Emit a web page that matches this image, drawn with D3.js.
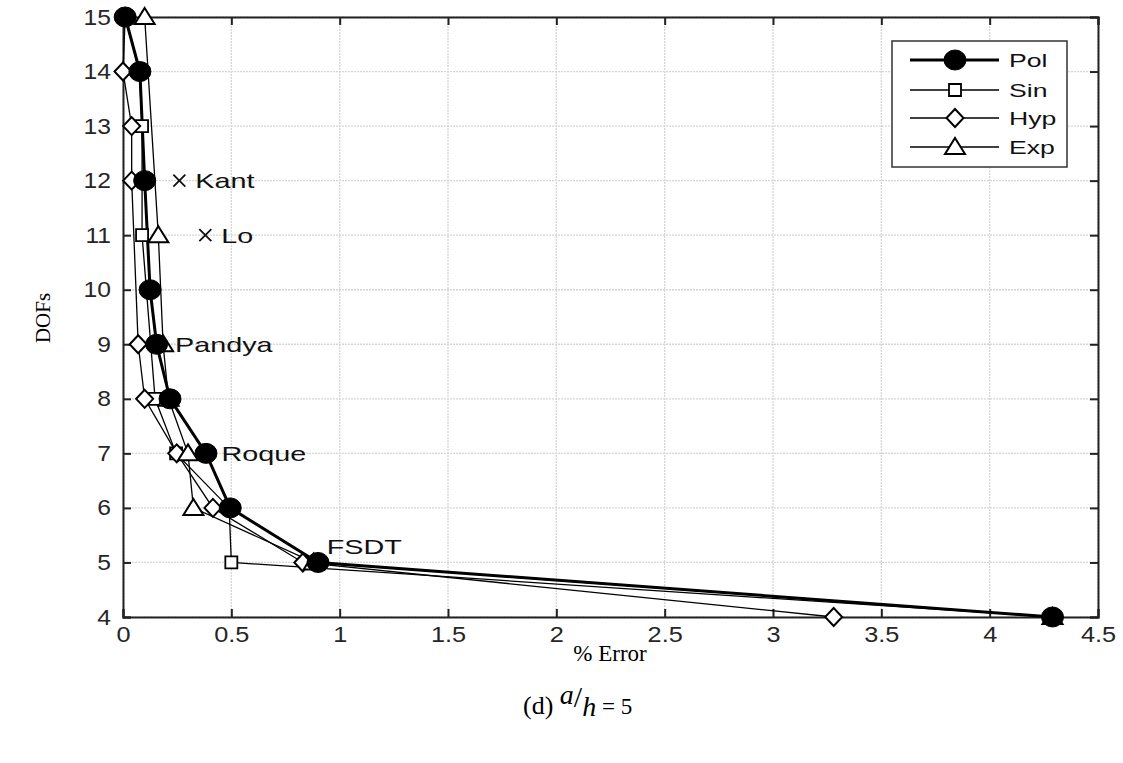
<!DOCTYPE html>
<html><head><meta charset="utf-8">
<script src="https://cdn.jsdelivr.net/npm/d3@7"></script>
<style>body{margin:0;background:#fff}</style>
</head><body>
<script>
// DOFs and % error values, per series
const polDofs = [15,14,12,10,9,8,7,6,5,4];
const polErr  = [0.01,0.078,0.10,0.125,0.155,0.217,0.383,0.495,0.90,4.29];
const sinDofs = [15,14,13,11,8,7,6,5,4];
const sinErr  = [0.01,0.075,0.088,0.088,0.148,0.245,0.49,0.50,4.29];
const hypDofs = [15,14,13,12,9,8,7,6,5,4];
const hypErr  = [0.01,0.0,0.04,0.04,0.07,0.10,0.248,0.415,0.83,3.28];
const expDofs = [15,11,9,8,7,6,5,4];
const expErr  = [0.10,0.163,0.185,0.21,0.30,0.325,0.88,4.29];
const xTicks = [0,0.5,1,1.5,2,2.5,3,3.5,4,4.5];
const yTicks = [4,5,6,7,8,9,10,11,12,13,14,15];
const annotNames = ["Kant","Lo","Pandya","Roque","FSDT"];
const annotX = [0.26,0.38,0.24,0.455,0.94];
const annotY = [12,11,9,7,5.3];
const annotMark = [true,true,false,false,false];
const legendNames = ["Pol","Sin","Hyp","Exp"];

const W=1123,H=763;
const svg=d3.select("body").append("svg").attr("width",W).attr("height",H);
const L=123,R=1098,T=17,B=617;
const x=d3.scaleLinear().domain([0,4.5]).range([L,R]);
const y=d3.scaleLinear().domain([4,15]).range([B,T]);
const SANS="Liberation Sans, Arial, sans-serif", SERIF="Liberation Serif, Times New Roman, serif";
function stretch(sel,f){sel.each(function(){const n=this;const w=n.getComputedTextLength();
  d3.select(n).attr("textLength",w*f).attr("lengthAdjust","spacingAndGlyphs");});}

// grid
const g=svg.append("g");
g.selectAll(".gx").data(xTicks).enter().append("line")
 .attr("x1",d=>x(d)).attr("x2",d=>x(d)).attr("y1",T).attr("y2",B)
 .attr("stroke","#d6d6d6").attr("stroke-width",1.3).attr("stroke-dasharray","2,1");
g.selectAll(".gy").data(yTicks).enter().append("line")
 .attr("x1",L).attr("x2",R).attr("y1",d=>y(d)).attr("y2",d=>y(d))
 .attr("stroke","#d6d6d6").attr("stroke-width",1.3).attr("stroke-dasharray","2,1");

// axes
const axB=d3.axisBottom(x).tickValues(xTicks).tickSize(-8).tickPadding(9).tickFormat(d=>String(d));
const axL=d3.axisLeft(y).tickValues(yTicks).tickSize(-8).tickPadding(12);
const axT=d3.axisTop(x).tickValues(xTicks).tickSize(-8).tickFormat("");
const axR=d3.axisRight(y).tickValues(yTicks).tickSize(-8).tickFormat("");
function style(sel){sel.selectAll("path,line").attr("stroke","#222").attr("stroke-width",2);
 sel.selectAll("text").attr("font-family",SANS).attr("font-size",22).attr("fill","#262626");}
const gB=svg.append("g").attr("transform",`translate(0,${B})`).call(axB).call(style);
const gL=svg.append("g").attr("transform",`translate(${L},0)`).call(axL).call(style);
svg.append("g").attr("transform",`translate(0,${T})`).call(axT).call(style);
svg.append("g").attr("transform",`translate(${R},0)`).call(axR).call(style);
svg.selectAll(".domain").attr("fill","none");
stretch(gB.selectAll("text"),1.15);
stretch(gL.selectAll("text"),1.12);

const line=d3.line().x(d=>x(d[0])).y(d=>y(d[1]));
const series=[
 {name:"Sin", pts:sinErr.map((e,i)=>[e,sinDofs[i]]), sym:"square", fill:"#fff", lw:1.3},
 {name:"Hyp", pts:hypErr.map((e,i)=>[e,hypDofs[i]]), sym:"diamond", fill:"#fff", lw:1.3},
 {name:"Exp", pts:expErr.map((e,i)=>[e,expDofs[i]]), sym:"triangle", fill:"#fff", lw:1.3},
 {name:"Pol", pts:polErr.map((e,i)=>[e,polDofs[i]]), sym:"circle", fill:"#000", lw:3}
];
function drawMarker(sel,s){
 if(s.sym==="circle"){sel.append("ellipse").attr("rx",11).attr("ry",10).attr("fill","#000").attr("stroke","#000");}
 else if(s.sym==="diamond"){sel.append("path").attr("d","M0,-9L8.5,0L0,9L-8.5,0Z").attr("fill","#fff").attr("stroke","#000").attr("stroke-width",2);}
 else if(s.sym==="square"){sel.append("path").attr("d","M-6,-6H6V6H-6Z").attr("fill","#fff").attr("stroke","#000").attr("stroke-width",1.8);}
 else {sel.append("path").attr("d","M0,-9L10,7L-10,7Z").attr("fill","#fff").attr("stroke","#000").attr("stroke-width",2);}
}
series.forEach(s=>{
 svg.append("path").datum(s.pts).attr("d",line).attr("fill","none").attr("stroke","#000").attr("stroke-width",s.lw);
});
series.forEach(s=>{
 s.pts.forEach(p=>{const m=svg.append("g").attr("transform",`translate(${x(p[0])},${y(p[1])})`);drawMarker(m,s);});
});

// annotations
annotNames.forEach((n,i)=>{
 const gx=x(annotX[i]), gy=y(annotY[i]);
 let tx=gx;
 if(annotMark[i]){
   svg.append("path").attr("d",`M${gx-6},${gy-6}L${gx+6},${gy+6}M${gx-6},${gy+6}L${gx+6},${gy-6}`).attr("stroke","#111").attr("stroke-width",1.8);
   tx=gx+16;
 }
 const t=svg.append("text").attr("x",tx).attr("y",gy).attr("dy","0.36em")
  .attr("font-family",SANS).attr("font-size",21).attr("fill","#111").text(n);
 stretch(t,1.37);
});

// legend
const lg=svg.append("g");
lg.append("rect").attr("x",892).attr("y",41).attr("width",175).attr("height",126).attr("fill","#fff").attr("stroke","#333").attr("stroke-width",1.5);
const legY=[60,90,118,147];
legendNames.forEach((n,i)=>{
 const s=series.find(d=>d.name===n);
 lg.append("line").attr("x1",910).attr("x2",999).attr("y1",legY[i]).attr("y2",legY[i]).attr("stroke","#000").attr("stroke-width",s.lw);
 const m=lg.append("g").attr("transform",`translate(955,${legY[i]})`);drawMarker(m,s);
 const t=lg.append("text").attr("x",1009).attr("y",legY[i]).attr("dy","0.36em").attr("font-family",SANS).attr("font-size",19).attr("fill","#111").text(n);
 stretch(t,1.4);
});

// axis titles
svg.append("text").attr("transform","translate(50,318) rotate(-90)").attr("text-anchor","middle")
 .attr("font-family",SERIF).attr("font-size",21).text("DOFs");
svg.append("text").attr("x",610).attr("y",661).attr("text-anchor","middle")
 .attr("font-family",SERIF).attr("font-size",23).text("% Error");
const cap=svg.append("text").attr("x",523).attr("y",714).attr("font-family",SERIF).attr("font-size",26);
cap.append("tspan").text("(d) ");
cap.append("tspan").attr("font-style","italic").attr("dy",-10).attr("font-size",28).text("a");
cap.append("tspan").attr("dy",3).attr("font-size",30).text("/");
cap.append("tspan").attr("font-style","italic").attr("dy",9).attr("font-size",28).text("h");
cap.append("tspan").attr("dy",-2).attr("font-size",23).text(" = 5");
</script>
</body></html>
